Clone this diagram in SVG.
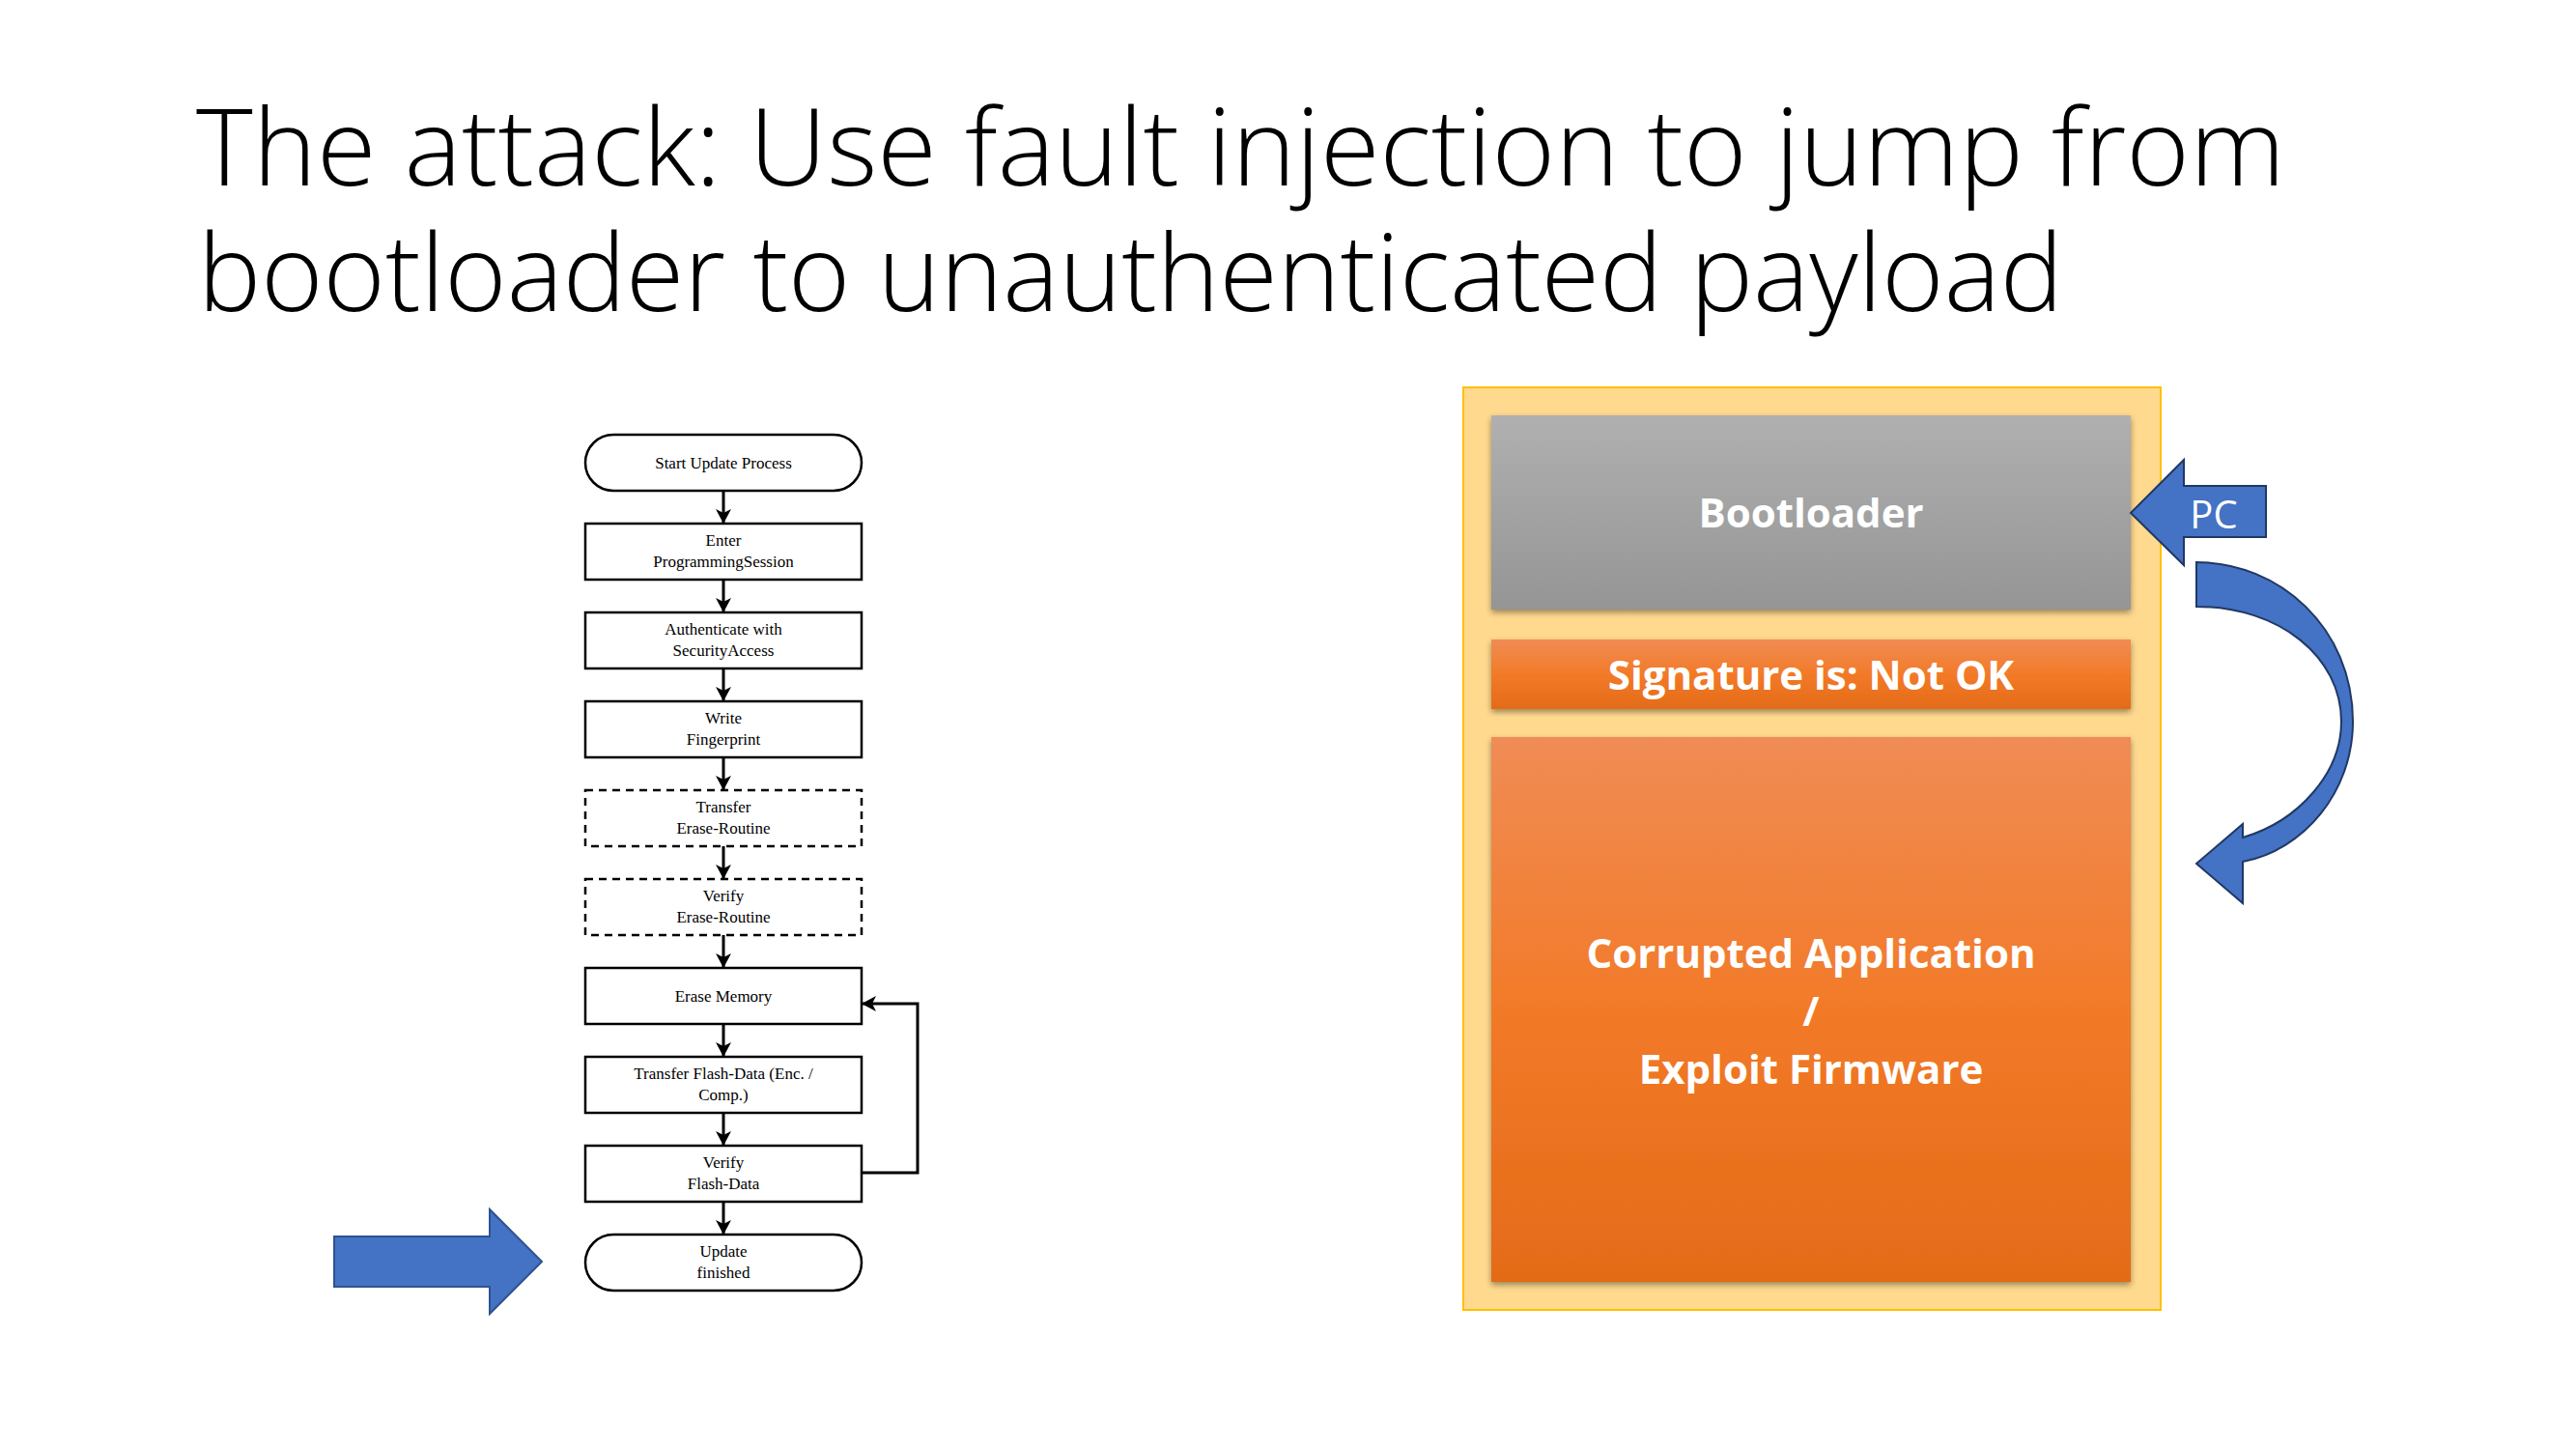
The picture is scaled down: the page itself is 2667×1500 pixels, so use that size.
<svg xmlns="http://www.w3.org/2000/svg" width="2667" height="1500" viewBox="0 0 2667 1500">
<style>
.t{font-family:"Open Sans","Liberation Sans",sans-serif;font-weight:300;font-size:110px;fill:#000}
.f{font-family:"Liberation Serif",serif;font-size:17px;fill:#000;text-anchor:middle}
.b{fill:#fff;stroke:#000;stroke-width:2.5}
.d{fill:#fff;stroke:#000;stroke-width:2.5;stroke-dasharray:8 6}
.w{font-family:"Open Sans","Liberation Sans",sans-serif;font-weight:700;fill:#fff;text-anchor:middle}
.c{stroke:#000;stroke-width:3;fill:none}
</style>
<defs>
<marker id="ah" markerWidth="16" markerHeight="16" refX="14" refY="8" orient="auto" markerUnits="userSpaceOnUse"><path d="M0,0 L15,8 L0,16 L4,8 Z" fill="#000"/></marker>
<linearGradient id="gg" x1="0" y1="0" x2="0" y2="1"><stop offset="0" stop-color="#b0b0b0"/><stop offset="1" stop-color="#959595"/></linearGradient>
<linearGradient id="go" x1="0" y1="0" x2="0" y2="1"><stop offset="0" stop-color="#f08c55"/><stop offset="0.5" stop-color="#f27a28"/><stop offset="1" stop-color="#e46b18"/></linearGradient>
<filter id="sh" x="-5%" y="-5%" width="110%" height="115%"><feDropShadow dx="0" dy="3" stdDeviation="3" flood-opacity="0.4"/></filter>
</defs>
<rect width="2667" height="1500" fill="#fff"/>
<text class="t" x="203" y="192" textLength="2163" lengthAdjust="spacingAndGlyphs">The attack: Use fault injection to jump  from</text>
<text class="t" x="205" y="322" textLength="1931" lengthAdjust="spacingAndGlyphs">bootloader to unauthenticated payload</text>

<g id="connectors">
<line class="c" x1="749" y1="508" x2="749" y2="541" marker-end="url(#ah)"/>
<line class="c" x1="749" y1="600" x2="749" y2="633" marker-end="url(#ah)"/>
<line class="c" x1="749" y1="692" x2="749" y2="725" marker-end="url(#ah)"/>
<line class="c" x1="749" y1="784" x2="749" y2="817" marker-end="url(#ah)"/>
<line class="c" x1="749" y1="876" x2="749" y2="909" marker-end="url(#ah)"/>
<line class="c" x1="749" y1="968" x2="749" y2="1001" marker-end="url(#ah)"/>
<line class="c" x1="749" y1="1060" x2="749" y2="1093" marker-end="url(#ah)"/>
<line class="c" x1="749" y1="1152" x2="749" y2="1185" marker-end="url(#ah)"/>
<line class="c" x1="749" y1="1244" x2="749" y2="1277" marker-end="url(#ah)"/>
<polyline class="c" points="892,1214 950,1214 950,1039 893,1039" marker-end="url(#ah)"/>
</g>

<g id="n-start"><rect class="b" x="606" y="450" width="286" height="58" rx="29"/><text class="f" x="749" y="485">Start Update Process</text></g>
<g id="n-enter"><rect class="b" x="606" y="542" width="286" height="58"/><text class="f" x="749" y="565">Enter</text><text class="f" x="749" y="587">ProgrammingSession</text></g>
<g id="n-auth"><rect class="b" x="606" y="634" width="286" height="58"/><text class="f" x="749" y="657">Authenticate with</text><text class="f" x="749" y="679">SecurityAccess</text></g>
<g id="n-write"><rect class="b" x="606" y="726" width="286" height="58"/><text class="f" x="749" y="749">Write</text><text class="f" x="749" y="771">Fingerprint</text></g>
<g id="n-terase"><rect class="d" x="606" y="818" width="286" height="58"/><text class="f" x="749" y="841">Transfer</text><text class="f" x="749" y="863">Erase-Routine</text></g>
<g id="n-verase"><rect class="d" x="606" y="910" width="286" height="58"/><text class="f" x="749" y="933">Verify</text><text class="f" x="749" y="955">Erase-Routine</text></g>
<g id="n-erase"><rect class="b" x="606" y="1002" width="286" height="58"/><text class="f" x="749" y="1037">Erase Memory</text></g>
<g id="n-tflash"><rect class="b" x="606" y="1094" width="286" height="58"/><text class="f" x="749" y="1117">Transfer Flash-Data (Enc. /</text><text class="f" x="749" y="1139">Comp.)</text></g>
<g id="n-vflash"><rect class="b" x="606" y="1186" width="286" height="58"/><text class="f" x="749" y="1209">Verify</text><text class="f" x="749" y="1231">Flash-Data</text></g>
<g id="n-done"><rect class="b" x="606" y="1278" width="286" height="58" rx="29"/><text class="f" x="749" y="1301">Update</text><text class="f" x="749" y="1323">finished</text></g>

<g id="big-arrow"><polygon points="346,1280 507,1280 507,1252 561,1306 507,1360 507,1332 346,1332" fill="#4472c4" stroke="#2f528f" stroke-width="2"/></g>

<g id="memory">
<rect x="1515" y="401" width="722" height="955" fill="#ffd98e" stroke="#ffc000" stroke-width="2"/>
<g id="n-boot"><rect x="1544" y="430" width="662" height="201" fill="url(#gg)" filter="url(#sh)"/><text class="w" x="1875" y="546" font-size="42">Bootloader</text></g>
<g id="n-sig"><rect x="1544" y="662" width="662" height="72" fill="url(#go)" filter="url(#sh)"/><text class="w" x="1875" y="714" font-size="42">Signature is: Not OK</text></g>
<g id="n-app"><rect x="1544" y="763" width="662" height="564" fill="url(#go)" filter="url(#sh)"/>
<text class="w" x="1875" y="1002" font-size="42">Corrupted Application</text>
<text class="w" x="1875" y="1062" font-size="42">/</text>
<text class="w" x="1875" y="1122" font-size="42">Exploit Firmware</text></g>
</g>

<g id="pc"><polygon points="2206,531 2261,476 2261,503 2346,503 2346,556 2261,556 2261,585" fill="#4472c4" stroke="#203864" stroke-width="2"/>
<text x="2292" y="547" font-family="'Open Sans','Liberation Sans',sans-serif" font-size="40" fill="#fff" text-anchor="middle">PC</text></g>
<g id="jump"><path d="M2274,582 C2360,582 2436,650 2436,747 C2436,820 2385,880 2322,892 L2322,935 L2274,894 L2322,853 L2322,867 C2380,850 2424,800 2424,747 C2424,680 2360,628 2274,628 Z" fill="#4472c4" stroke="#203864" stroke-width="2"/></g>
</svg>
